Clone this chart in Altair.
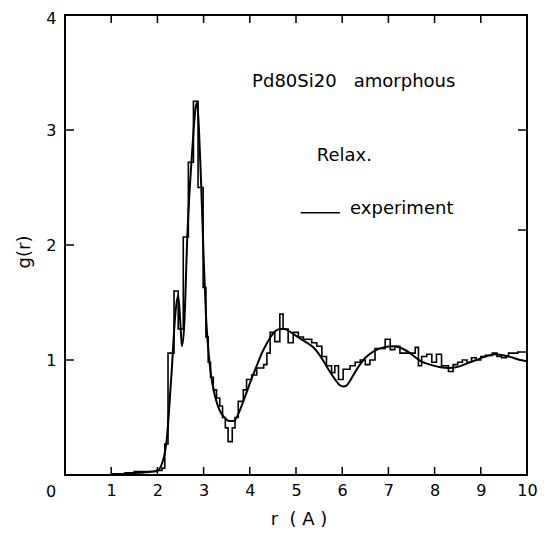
import altair as alt
import pandas as pd

# Histogram (simulation, "Relax.") as step starts r and heights g
hist_r = [1.0, 1.3, 1.5, 2.0, 2.1, 2.16, 2.23, 2.36, 2.45, 2.56, 2.67, 2.78, 2.88, 2.99,
          3.05, 3.1, 3.15, 3.21, 3.28, 3.35, 3.41, 3.47, 3.53, 3.62, 3.68, 3.75, 3.86,
          3.93, 4.04, 4.15, 4.3, 4.37, 4.44, 4.54, 4.65, 4.72, 4.83, 4.94, 5.05, 5.16,
          5.34, 5.45, 5.56, 5.66, 5.77, 5.84, 5.92, 6.02, 6.17, 6.28, 6.39, 6.5, 6.6,
          6.71, 6.93, 7.04, 7.14, 7.25, 7.58, 7.65, 7.72, 7.83, 7.94, 8.04, 8.15, 8.3,
          8.4, 8.5, 8.6, 8.7, 8.8, 8.9, 9.0, 9.1, 9.25, 9.35, 9.45, 9.55, 9.6, 9.8, 10.0]
hist_g = [0.01, 0.02, 0.03, 0.04, 0.06, 0.27, 1.06, 1.6, 1.27, 2.07, 2.72, 3.25, 2.5, 1.63,
          1.2, 0.98, 0.85, 0.74, 0.67, 0.6, 0.5, 0.41, 0.29, 0.41, 0.5, 0.64, 0.74,
          0.83, 0.87, 0.93, 0.96, 1.06, 1.24, 1.16, 1.40, 1.27, 1.15, 1.24, 1.2, 1.18,
          1.15, 1.12, 1.03, 0.95, 0.89, 0.95, 0.83, 0.92, 0.95, 0.98, 1.0, 0.96, 1.0,
          1.1, 1.18, 1.09, 1.12, 1.06, 1.11, 0.95, 1.03, 1.05, 0.98, 1.05, 0.95, 0.9,
          0.96, 0.98, 1.0, 0.98, 1.02, 1.0, 1.03, 1.04, 1.06, 1.03, 1.02, 1.03, 1.06, 1.07, 1.07]

# Experiment (smooth curve)
curve_r = [1.0, 1.3, 1.6, 1.9, 2.0, 2.1, 2.2, 2.3, 2.4, 2.45, 2.5, 2.53, 2.58, 2.65, 2.75,
           2.83, 2.86, 2.9, 2.95, 3.0, 3.05, 3.1, 3.15, 3.25, 3.35, 3.45, 3.55, 3.65,
           3.75, 3.85, 3.95, 4.05, 4.15, 4.25, 4.35, 4.45, 4.55, 4.65, 4.75, 4.85, 5.0,
           5.2, 5.4, 5.55, 5.7, 5.85, 5.95, 6.02, 6.1, 6.2, 6.35, 6.5, 6.7, 6.9, 7.1,
           7.3, 7.5, 7.7, 7.9, 8.1, 8.3, 8.5, 8.7, 8.9, 9.1, 9.3, 9.5, 9.7, 9.85, 10.0]
curve_g = [0.0, 0.01, 0.02, 0.03, 0.04, 0.1, 0.3, 0.85, 1.45, 1.56, 1.3, 1.12, 1.3, 2.1, 2.8,
           3.2, 3.24, 3.0, 2.5, 1.9, 1.4, 1.1, 0.9, 0.68, 0.56, 0.5, 0.47, 0.47,
           0.53, 0.63, 0.74, 0.85, 0.95, 1.05, 1.13, 1.2, 1.25, 1.27, 1.27, 1.25, 1.21,
           1.16, 1.1, 1.02, 0.92, 0.83, 0.78, 0.77, 0.78, 0.84, 0.94, 1.02, 1.08, 1.11, 1.12,
           1.1, 1.05, 0.99, 0.96, 0.94, 0.93, 0.94, 0.97, 1.0, 1.03, 1.05, 1.04, 1.02, 1.0, 0.99]

x_tick_vals = [1, 2, 3, 4, 5, 6, 7, 8, 9]
y_tick_vals = [1, 2, 3]
right_tick_vals = [2.13, 3]
x_label_vals = [1, 2, 3, 4, 5, 6, 7, 8, 9, 10]
y_label_vals = [1, 2, 3, 4]

W, H = 462, 460
FONT = "DejaVu Sans"

xs = alt.Scale(domain=[0, 10], nice=False, zero=False)
ys = alt.Scale(domain=[0, 4], nice=False, zero=False)

x_axis = alt.Axis(
    values=x_label_vals, ticks=False, domain=False, grid=False,
    labelFontSize=16, labelFont=FONT, labelColor="black", labelPadding=7,
    labelOverlap=False, labelFlush=False, title=None)
y_axis = alt.Axis(
    values=y_label_vals, ticks=False, domain=False, grid=False,
    labelFontSize=16, labelFont=FONT, labelColor="black", labelPadding=9,
    labelOffset={"condition": {"test": "datum.value == 4", "value": 3}, "value": 0},
    labelOverlap=False, labelFlush=False, title=None)

hist_df = pd.DataFrame({"r": hist_r, "g": hist_g})
curve_df = pd.DataFrame({"r": curve_r, "g": curve_g})

hist = alt.Chart(hist_df).mark_line(
    interpolate="step-after", color="black", strokeWidth=1.6
).encode(
    x=alt.X("r:Q", scale=xs, axis=x_axis),
    y=alt.Y("g:Q", scale=ys, axis=y_axis),
)

curve = alt.Chart(curve_df).mark_line(
    interpolate="monotone", color="black", strokeWidth=2
).encode(
    x=alt.X("r:Q", scale=xs, axis=x_axis),
    y=alt.Y("g:Q", scale=ys, axis=y_axis),
)

xt = pd.DataFrame({"r": x_tick_vals})
yt = pd.DataFrame({"g": y_tick_vals})
rt = pd.DataFrame({"g": right_tick_vals})

bottom_ticks = alt.Chart(xt).mark_rule(color="black", strokeWidth=1.5).encode(
    x=alt.X("r:Q", scale=xs, axis=x_axis), y=alt.value(H), y2=alt.value(H - 8))
top_ticks = alt.Chart(xt).mark_rule(color="black", strokeWidth=1.5).encode(
    x=alt.X("r:Q", scale=xs, axis=x_axis), y=alt.value(0), y2=alt.value(8))
left_ticks = alt.Chart(yt).mark_rule(color="black", strokeWidth=1.5).encode(
    y=alt.Y("g:Q", scale=ys, axis=y_axis), x=alt.value(0), x2=alt.value(9))
right_ticks = alt.Chart(rt).mark_rule(color="black", strokeWidth=1.5).encode(
    y=alt.Y("g:Q", scale=ys, axis=y_axis), x=alt.value(W), x2=alt.value(W - 9))

one = pd.DataFrame({"a": [0]})
txt = dict(font=FONT, fontSize=18, color="black", align="left", baseline="middle")
title_txt = alt.Chart(one).mark_text(**txt, text="Pd80Si20\u00a0\u00a0\u00a0amorphous").encode(
    x=alt.X(datum=4.05, scale=xs, axis=x_axis), y=alt.Y(datum=3.42, scale=ys, axis=y_axis))
relax_txt = alt.Chart(one).mark_text(**txt, text="Relax.").encode(
    x=alt.X(datum=5.45, scale=xs, axis=x_axis), y=alt.Y(datum=2.77, scale=ys, axis=y_axis))
legend_line = alt.Chart(one).mark_rule(color="black", strokeWidth=1.6).encode(
    x=alt.X(datum=5.1, scale=xs, axis=x_axis), x2=alt.X2(datum=5.95),
    y=alt.Y(datum=2.28, scale=ys, axis=y_axis))
exp_txt = alt.Chart(one).mark_text(**txt, text="experiment").encode(
    x=alt.X(datum=6.17, scale=xs, axis=x_axis), y=alt.Y(datum=2.31, scale=ys, axis=y_axis))

zero_lbl = alt.Chart(one).mark_text(
    font=FONT, fontSize=16, color="black", align="center", baseline="middle", text="0"
).encode(x=alt.value(-14), y=alt.value(H + 17))

xtitle = alt.Chart(one).mark_text(
    font=FONT, fontSize=18, color="black", align="center", baseline="middle",
    text="r\u00a0\u00a0(\u00a0A\u00a0)"
).encode(x=alt.value(W / 2 + 3), y=alt.value(H + 45))

ytitle = alt.Chart(one).mark_text(
    font=FONT, fontSize=18, color="black", align="center", baseline="middle", text="g(r)", angle=270
).encode(x=alt.value(-40), y=alt.value(237))

chart = alt.layer(
    hist, curve, bottom_ticks, top_ticks, left_ticks, right_ticks,
    title_txt, relax_txt, legend_line, exp_txt, zero_lbl, xtitle, ytitle
).properties(
    width=W, height=H,
    autosize=alt.AutoSizeParams(type="none"),
    padding={"left": 57, "top": 7, "right": 15, "bottom": 56},
    background="white",
).configure_view(
    stroke="black", strokeWidth=2
)

chart.save("out.html", embed_options={"renderer": "svg", "actions": False})
